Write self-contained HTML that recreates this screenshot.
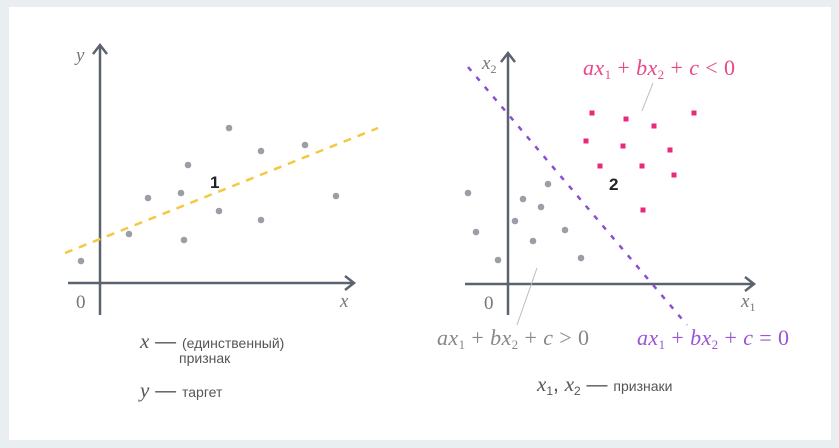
<!DOCTYPE html>
<html><head><meta charset="utf-8"><style>
html,body{margin:0;padding:0;background:#e9eef1;}
svg{display:block;}
.m{font-family:"Liberation Serif",serif;font-style:italic;}
.s{font-family:"Liberation Sans","DejaVu Sans",sans-serif;}
.f{letter-spacing:0.4px;}
</style></head><body>
<svg width="839" height="448" viewBox="0 0 839 448">
<rect x="0" y="0" width="839" height="448" fill="#e9eef1"/>
<rect x="9" y="7" width="822" height="433" fill="#ffffff"/>
<g id="left">
 <line x1="68" y1="283" x2="354" y2="283" stroke="#5b6270" stroke-width="2.5"/>
 <polyline points="345,276 354,283 345,290" fill="none" stroke="#5b6270" stroke-width="2.5"/>
 <line x1="100" y1="315" x2="100" y2="45" stroke="#5b6270" stroke-width="2.5"/>
 <polyline points="93,54 100,45 107,54" fill="none" stroke="#5b6270" stroke-width="2.5"/>
 <text x="76" y="61" class="m" font-size="19" fill="#777">y</text>
 <text x="340" y="307" class="m" font-size="19" fill="#777">x</text>
 <text x="76" y="308" font-family="Liberation Serif,serif" font-size="19" fill="#777">0</text>
 <text x="210" y="188" class="s" font-size="17" font-weight="bold" fill="#222">1</text>
 <text x="140" y="348" class="s" font-size="14" fill="#555"><tspan class="m" font-size="21">x</tspan><tspan font-size="21"> — </tspan>(единственный)</text>
 <text x="179" y="363" class="s" font-size="14" fill="#555">признак</text>
 <text x="140" y="397" class="s" font-size="14" fill="#555"><tspan class="m" font-size="21">y</tspan><tspan font-size="21"> — </tspan>таргет</text>
</g>
<g id="right">
 <line x1="465" y1="284" x2="754" y2="284" stroke="#5b6270" stroke-width="2.5"/>
 <polyline points="745,277 754,284 745,291" fill="none" stroke="#5b6270" stroke-width="2.5"/>
 <line x1="508" y1="315" x2="508" y2="53" stroke="#5b6270" stroke-width="2.5"/>
 <polyline points="501,62 508,53 515,62" fill="none" stroke="#5b6270" stroke-width="2.5"/>
 <text x="482" y="69" class="m" font-size="19" fill="#777">x<tspan font-size="12" dy="4" font-style="normal">2</tspan></text>
 <text x="741" y="307" class="m" font-size="19" fill="#777">x<tspan font-size="12" dy="4" font-style="normal">1</tspan></text>
 <text x="484" y="309" font-family="Liberation Serif,serif" font-size="19" fill="#777">0</text>
 <text x="609" y="190" class="s" font-size="17" font-weight="bold" fill="#222">2</text>
 <line x1="653" y1="83" x2="642" y2="111" stroke="#bbb" stroke-width="1"/>
 <line x1="537" y1="268" x2="517" y2="325" stroke="#bbb" stroke-width="1"/>
 <text x="583" y="75" class="m f" font-size="22" fill="#e8488a">ax<tspan font-size="13" dy="4" font-style="normal">1</tspan><tspan dy="-4" font-style="normal"> + </tspan>bx<tspan font-size="13" dy="4" font-style="normal">2</tspan><tspan dy="-4" font-style="normal"> + </tspan>c<tspan font-style="normal"> &lt; 0</tspan></text>
 <text x="437" y="345" class="m f" font-size="22" fill="#888">ax<tspan font-size="13" dy="4" font-style="normal">1</tspan><tspan dy="-4" font-style="normal"> + </tspan>bx<tspan font-size="13" dy="4" font-style="normal">2</tspan><tspan dy="-4" font-style="normal"> + </tspan>c<tspan font-style="normal"> &gt; 0</tspan></text>
 <text x="637" y="345" class="m f" font-size="22" fill="#9a55d6">ax<tspan font-size="13" dy="4" font-style="normal">1</tspan><tspan dy="-4" font-style="normal"> + </tspan>bx<tspan font-size="13" dy="4" font-style="normal">2</tspan><tspan dy="-4" font-style="normal"> + </tspan>c<tspan font-style="normal"> = 0</tspan></text>
 <text x="537" y="391" class="s" font-size="14" fill="#555"><tspan class="m" font-size="21">x</tspan><tspan font-size="12" dy="4">1</tspan><tspan font-size="21" dy="-4">, </tspan><tspan class="m" font-size="21">x</tspan><tspan font-size="12" dy="4">2</tspan><tspan font-size="21" dy="-4"> — </tspan>признаки</text>
</g>
<g id="marks"></g>
</svg>
<script>
const regX = [-19, 29, 48, 84, 81, 88, 119, 129, 161, 161, 205, 236];
const regY = [22, 49, 85, 43, 90, 118, 72, 155, 132, 63, 138, 87];
const regLineX = [-35, 278];
const regLineY = [30, 155];
const grayX1 = [-40, -32, -10, 7, 15, 25, 33, 40, 57, 73];
const grayX2 = [91, 52, 24, 63, 85, 43, 77, 100, 54, 26];
const pinkX1 = [84, 118, 146, 186, 78, 115, 162, 92, 134, 166, 135];
const pinkX2 = [171, 165, 158, 171, 143, 138, 134, 118, 118, 109, 74];
const boundX1 = [-40, 179];
const boundX2 = [217, -41];

const NS = 'http://www.w3.org/2000/svg';
const g = document.getElementById('marks');
function lx(v){return 100+v;} function ly(v){return 283-v;}
function rx(v){return 508+v;} function ry(v){return 284-v;}
function mk(tag, attrs){const e=document.createElementNS(NS,tag);for(const k in attrs)e.setAttribute(k,attrs[k]);g.appendChild(e);return e;}

const rl = mk('line',{x1:lx(regLineX[0]),y1:ly(regLineY[0]),x2:lx(regLineX[1]),y2:ly(regLineY[1]),stroke:'#f5c842','stroke-width':2.5,'stroke-dasharray':'8,7'});


for(let i=0;i<regX.length;i++){
  const c = mk('circle',{cx:lx(regX[i]),cy:ly(regY[i]),r:3.3,fill:'#9a9ea6'});
  
  
}
const bl = mk('line',{x1:rx(boundX1[0]),y1:ry(boundX2[0]),x2:rx(boundX1[1]),y2:ry(boundX2[1]),stroke:'#8a4fd0','stroke-width':2.5,'stroke-dasharray':'5,8'});


for(let i=0;i<grayX1.length;i++){
  const c = mk('circle',{cx:rx(grayX1[i]),cy:ry(grayX2[i]),r:3.3,fill:'#9a9ea6'});
  
  
}
for(let i=0;i<pinkX1.length;i++){
  const r = mk('rect',{x:rx(pinkX1[i])-2.5,y:ry(pinkX2[i])-2.5,width:5,height:5,fill:'#e8287a'});
  
  
}
</script>
</body></html>
